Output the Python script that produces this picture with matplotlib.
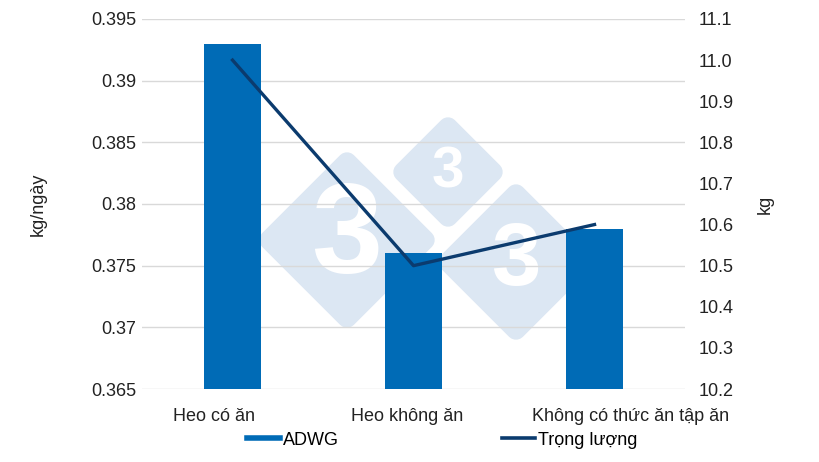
import matplotlib.pyplot as plt
import numpy as np
from matplotlib.patches import Polygon
from matplotlib.lines import Line2D
from matplotlib.transforms import ScaledTranslation

plt.rcParams['font.family'] = ['Liberation Sans', 'DejaVu Sans']

# dữ liệu
categories = ["Heo có ăn", "Heo không ăn", "Không có thức ăn tập ăn"]
adwg = [0.393, 0.376, 0.378]
trong_luong = [11.0, 10.5, 10.6]
left_ticks = [0.365, 0.37, 0.375, 0.38, 0.385, 0.39, 0.395]
left_tick_labels = ["0.365", "0.37", "0.375", "0.38", "0.385", "0.39", "0.395"]
right_ticks = [10.2, 10.3, 10.4, 10.5, 10.6, 10.7, 10.8, 10.9, 11.0, 11.1]

BAR_COLOR = "#006bb6"
LINE_COLOR = "#0b3b6e"
GRID_COLOR = "#d9d9d9"
WM_COLOR = "#dce7f3"

fig = plt.figure(figsize=(8.2, 4.62), dpi=100)
ax1 = fig.add_axes([0.1732, 0.158, 0.6622, 0.8009])
ax2 = ax1.twinx()

x = np.arange(len(categories))

# watermark (logo 3 ô vuông)
def diamond(cx, cy, half, size):
    pts = [(cx, cy + half), (cx + half, cy), (cx, cy - half), (cx - half, cy)]
    pts = [(px / 820, 1 - py / 462) for px, py in pts]
    poly = Polygon(pts, closed=True, facecolor=WM_COLOR, edgecolor=WM_COLOR,
                   linewidth=14, joinstyle='round', transform=fig.transFigure,
                   zorder=0.1)
    ax1.add_patch(poly)
    ax1.text(cx / 820, 1 - cy / 462, "3", transform=fig.transFigure,
             color="white", fontsize=size, fontweight="bold",
             ha="center", va="center", zorder=0.2)

diamond(347, 240, 78, 92)
diamond(448, 172, 45, 42)
diamond(516, 262, 68, 64)

ax1.bar(x, adwg, width=0.315, color=BAR_COLOR, zorder=2)
ax1.set_ylim(0.365, 0.395)
ax1.set_xlim(-0.5, len(categories) - 0.5)
ax1.set_yticks(left_ticks)
ax1.set_yticklabels(left_tick_labels)
ax1.set_xticks(x)
ax1.set_xticklabels(categories)
ax1.grid(axis='y', color=GRID_COLOR, linewidth=1, zorder=0.5)
ax1.set_axisbelow(True)
ax1.tick_params(axis='both', length=0, labelsize=13, colors="#222222")
ax1.tick_params(axis='y', pad=4)
ax1.tick_params(axis='x', pad=14)
ax1.set_ylabel("kg/ngày", fontsize=13, labelpad=32, color="#222222")

# dịch nhãn trục x giống Excel
shifts = [-19, -6, 36]
for lbl, dx in zip(ax1.get_xticklabels(), shifts):
    lbl.set_transform(lbl.get_transform() + ScaledTranslation(dx / 100, 0, fig.dpi_scale_trans))

ax2.plot(x, trong_luong, color=LINE_COLOR, linewidth=2.4, zorder=3)
ax2.set_ylim(10.2, 11.1)
ax2.set_yticks(right_ticks)
ax2.set_yticklabels(["%.1f" % v for v in right_ticks])
ax2.tick_params(axis='y', length=0, labelsize=13, pad=10, colors="#222222")
ax2.set_ylabel("kg", fontsize=13, labelpad=16, color="#222222")

for a in (ax1, ax2):
    for s in a.spines.values():
        s.set_visible(False)

handles = [Line2D([0], [0], color=BAR_COLOR, linewidth=4),
           Line2D([0], [0], color=LINE_COLOR, linewidth=2.6)]
fig.legend(handles, ["ADWG", "Trọng lượng"], loc="center",
           bbox_to_anchor=(0.539, 0.047), ncol=2, frameon=False,
           fontsize=13, handlelength=1.85, handletextpad=0.15,
           columnspacing=9.0)

fig.savefig("out.png", dpi=100)
